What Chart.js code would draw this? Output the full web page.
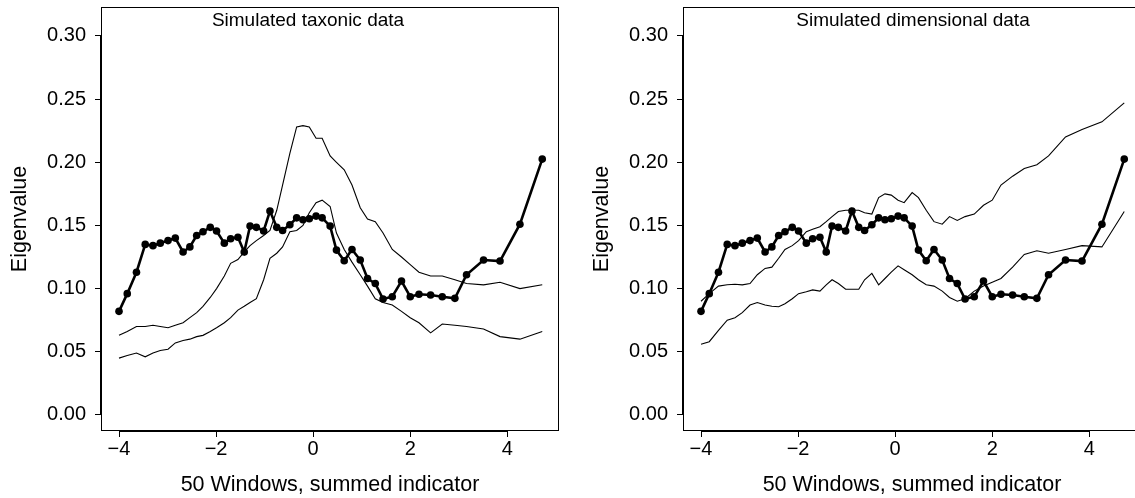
<!DOCTYPE html>
<html><head><meta charset="utf-8">
<script src="https://cdn.jsdelivr.net/npm/chart.js@4.4.0/dist/chart.umd.min.js"></script>
<style>
html,body{margin:0;padding:0;background:#fff;overflow:hidden;width:1135px;height:498px;}
#wrap{position:relative;width:1135px;height:498px;overflow:hidden;background:#fff;}
canvas{position:absolute;top:0;}
#c1{left:0;} #c2{left:582px;}
</style></head><body>
<div id="wrap"><canvas id="c1" width="570" height="498"></canvas><canvas id="c2" width="570" height="498"></canvas></div>
<script>
// ---- data ----
const windowCenters = [-4.00,-3.83,-3.64,-3.46,-3.30,-3.15,-2.99,-2.84,-2.68,-2.54,
  -2.40,-2.27,-2.12,-1.99,-1.83,-1.70,-1.55,-1.42,-1.30,-1.17,
  -1.02,-0.89,-0.75,-0.63,-0.48,-0.34,-0.21,-0.08,0.06,0.185,
  0.35,0.48,0.64,0.80,0.97,1.12,1.28,1.44,1.63,1.82,
  2.00,2.18,2.42,2.66,2.92,3.16,3.51,3.85,4.26,4.72];
const observedEigen = [0.082,0.096,0.113,0.135,0.134,0.136,0.138,0.140,0.129,0.133,
  0.142,0.145,0.1485,0.1456,0.136,0.1395,0.1406,0.129,0.1495,0.1485,
  0.1456,0.1614,0.1485,0.146,0.1506,0.156,0.1545,0.1553,0.1574,0.156,
  0.1495,0.1305,0.122,0.131,0.1226,0.108,0.104,0.0918,0.0936,0.106,
  0.0936,0.0955,0.095,0.0936,0.0923,0.111,0.1226,0.1218,0.151,0.2025];
const taxonicSimA = [0.063,0.066,0.070,0.070,0.071,0.070,0.069,0.071,0.073,0.077,
  0.081,0.086,0.093,0.100,0.110,0.120,0.123,0.129,0.134,0.138,
  0.142,0.146,0.162,0.182,0.207,0.228,0.229,0.228,0.219,0.219,
  0.205,0.200,0.194,0.182,0.164,0.155,0.153,0.144,0.131,0.125,
  0.119,0.113,0.110,0.110,0.107,0.104,0.103,0.105,0.100,0.103];
const taxonicSimB = [0.045,0.047,0.049,0.046,0.049,0.051,0.052,0.057,0.059,0.060,
  0.062,0.063,0.066,0.069,0.073,0.077,0.083,0.086,0.089,0.092,
  0.107,0.124,0.128,0.133,0.145,0.146,0.150,0.160,0.168,0.170,
  0.165,0.144,0.131,0.121,0.111,0.102,0.092,0.089,0.087,0.082,
  0.077,0.073,0.065,0.072,0.071,0.070,0.068,0.062,0.060,0.066];
const dimensionalSimA = [0.090,0.096,0.102,0.103,0.1035,0.103,0.104,0.111,0.116,0.117,
  0.124,0.131,0.134,0.138,0.145,0.147,0.149,0.153,0.157,0.161,
  0.162,0.162,0.162,0.160,0.159,0.172,0.175,0.174,0.170,0.168,
  0.176,0.172,0.162,0.153,0.151,0.157,0.154,0.157,0.159,0.166,
  0.170,0.182,0.189,0.195,0.198,0.205,0.220,0.226,0.232,0.247];
const dimensionalSimB = [0.056,0.058,0.067,0.075,0.077,0.081,0.087,0.089,0.087,0.086,
  0.0857,0.088,0.092,0.096,0.0975,0.099,0.098,0.103,0.107,0.104,
  0.0995,0.0995,0.0995,0.107,0.112,0.103,0.108,0.113,0.118,0.115,
  0.111,0.107,0.103,0.102,0.098,0.093,0.090,0.092,0.098,0.102,
  0.105,0.108,0.117,0.127,0.130,0.128,0.131,0.134,0.133,0.161];
const xTickValues = [-4,-2,0,2,4];
const yTickValues = [0.00,0.05,0.10,0.15,0.20,0.25,0.30];
const panelTitles = ['Simulated taxonic data','Simulated dimensional data'];
const xAxisTitle = '50 Windows, summed indicator';
const yAxisTitle = 'Eigenvalue';

// ---- drawing ----
const FONT = '"Liberation Sans", Arial, sans-serif';
const framePlugin = {
  id: 'frame',
  afterDraw(chart, args, opts) {
    const {ctx, chartArea: a, scales: {x, y}} = chart;
    ctx.save();
    ctx.strokeStyle = '#000';
    ctx.lineWidth = 1;
    ctx.strokeRect(a.left + 0.5, a.top + 0.5, a.right - a.left - 1, a.bottom - a.top - 1);
    ctx.lineWidth = 2;
    const x0 = x.getPixelForValue(xTickValues[0]);
    const x1 = x.getPixelForValue(xTickValues[xTickValues.length - 1]);
    ctx.beginPath(); ctx.moveTo(x0, a.bottom); ctx.lineTo(x1, a.bottom); ctx.stroke();
    const y0 = y.getPixelForValue(yTickValues[0]);
    const y1 = y.getPixelForValue(yTickValues[yTickValues.length - 1]);
    ctx.beginPath(); ctx.moveTo(a.left, y0); ctx.lineTo(a.left, y1); ctx.stroke();
    ctx.fillStyle = '#000';
    ctx.font = '19px ' + FONT;
    ctx.textAlign = 'center';
    ctx.textBaseline = 'middle';
    ctx.fillText(opts.title, a.left + opts.titleOffset, a.top + 14);
    ctx.restore();
  }
};

function makeChart(id, title, titleOffset, simA, simB) {
  const pts = (arr) => windowCenters.map((v, i) => ({x: v, y: arr[i]}));
  return new Chart(document.getElementById(id), {
    type: 'line',
    data: {
      datasets: [
        {data: pts(observedEigen), borderColor: '#000', backgroundColor: '#000', borderWidth: 2.6,
         pointRadius: 3.8, pointBorderWidth: 0, pointBackgroundColor: '#000', tension: 0},
        {data: pts(simA), borderColor: '#000', borderWidth: 1.1, pointRadius: 0, tension: 0},
        {data: pts(simB), borderColor: '#000', borderWidth: 1.1, pointRadius: 0, tension: 0}
      ]
    },
    options: {
      responsive: false,
      animation: false,
      events: [],
      layout: {padding: {top: 7, right: 11, left: 0, bottom: 0}},
      plugins: {legend: {display: false}, tooltip: {enabled: false},
                frame: {title: title, titleOffset: titleOffset}},
      scales: {
        x: {
          type: 'linear', min: -4.371, max: 5.065,
          afterBuildTicks: s => { s.ticks = xTickValues.map(v => ({value: v})); },
          afterFit: s => { s.height = 67; s.paddingLeft = 0; s.paddingRight = 0; },
          grid: {drawOnChartArea: false, drawTicks: true, tickLength: 6, color: '#000', lineWidth: 1},
          border: {display: false},
          ticks: {color: '#000', font: {family: FONT, size: 20}, padding: 0, maxRotation: 0,
                  callback: v => (v < 0 ? '\u2212' : '') + Math.abs(v)},
          title: {display: true, text: xAxisTitle, color: '#000', font: {family: FONT, size: 21.5},
                  padding: {top: 0, bottom: 0}}
        },
        y: {
          type: 'linear', min: -0.0127, max: 0.3229,
          afterBuildTicks: s => { s.ticks = yTickValues.map(v => ({value: v})); },
          afterFit: s => { s.width = 101; s.paddingTop = 0; s.paddingBottom = 0; },
          grid: {drawOnChartArea: false, drawTicks: true, tickLength: 6, color: '#000', lineWidth: 1},
          border: {display: false},
          ticks: {color: '#000', font: {family: FONT, size: 20}, padding: 9,
                  callback: v => v.toFixed(2)},
          title: {display: true, text: yAxisTitle, color: '#000', font: {family: FONT, size: 21.5},
                  padding: {top: 7, bottom: 0}}
        }
      }
    },
    plugins: [framePlugin]
  });
}
makeChart('c1', panelTitles[0], 207, taxonicSimA, taxonicSimB);
makeChart('c2', panelTitles[1], 230, dimensionalSimA, dimensionalSimB);
</script>
</body></html>
